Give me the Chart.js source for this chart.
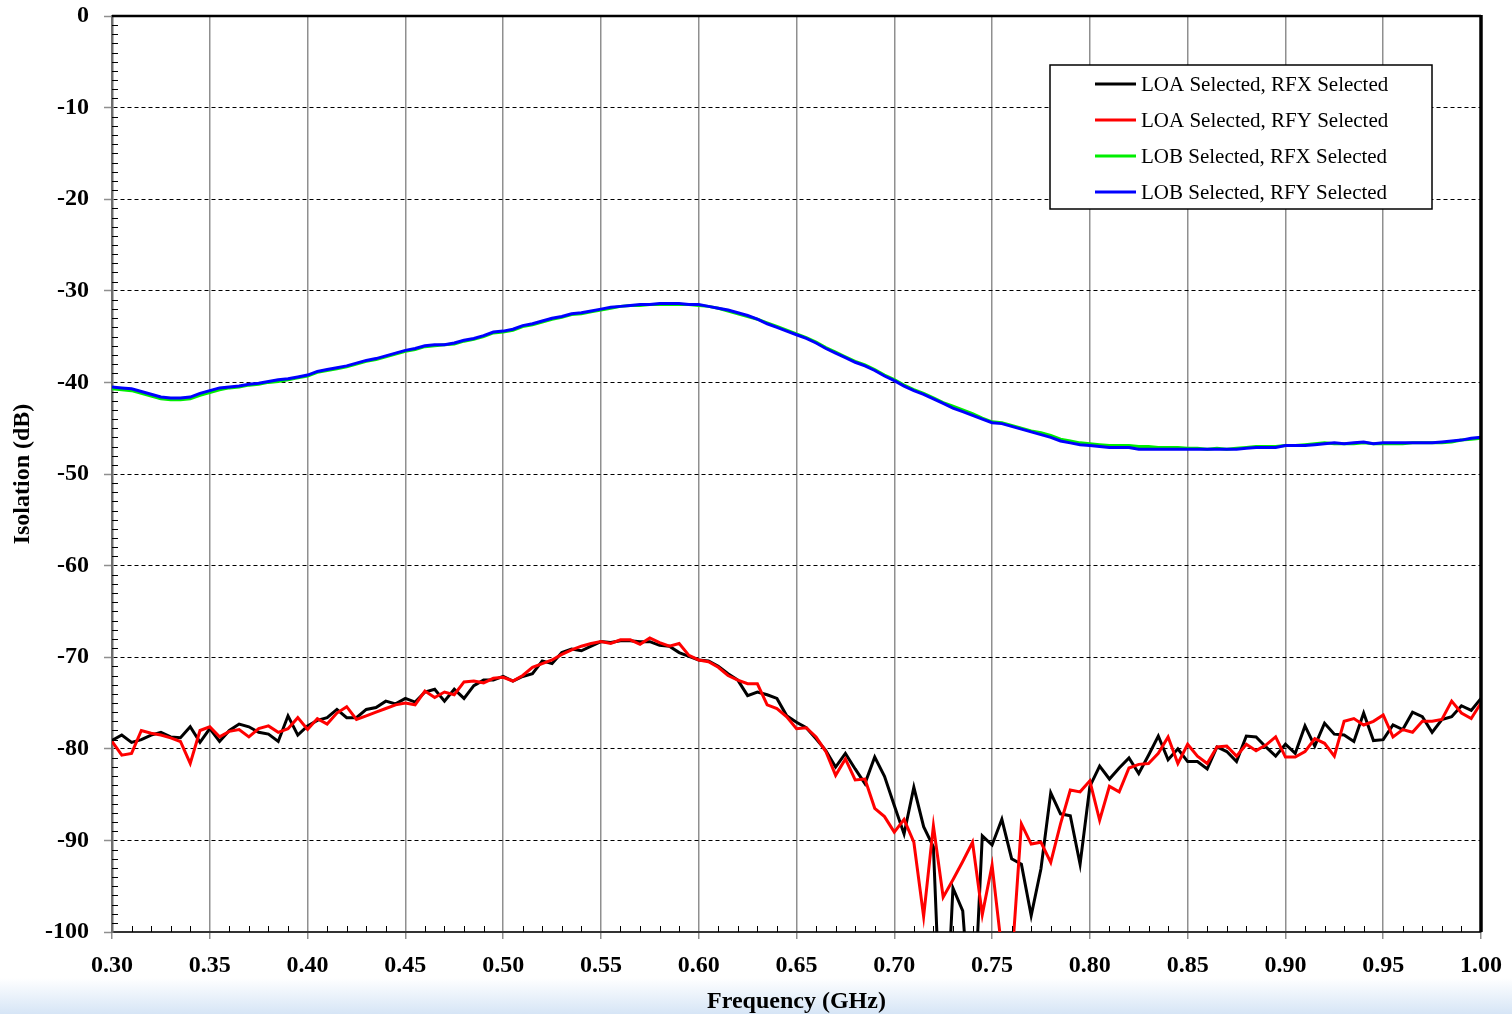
<!DOCTYPE html>
<html>
<head>
<meta charset="utf-8">
<title>Isolation vs Frequency</title>
<script src="https://cdn.jsdelivr.net/npm/chart.js@4.4.1/dist/chart.umd.min.js"></script>
<style>
    html, body { margin: 0; padding: 0; }
    body {
        width: 1512px;
        height: 1014px;
        overflow: hidden;
        background: linear-gradient(to bottom, #ffffff 0px, #ffffff 978px, #d6e5f6 1014px);
    }
    canvas { display: block; }
</style>
</head>
<body>
<canvas id="isolation-plot" width="1512" height="1014"></canvas>
<script>
// Frequency points (GHz), 5 MHz step
const freqGHz = [
    0.300, 0.305, 0.310, 0.315, 0.320, 0.325, 0.330, 0.335, 0.340, 0.345,
    0.350, 0.355, 0.360, 0.365, 0.370, 0.375, 0.380, 0.385, 0.390, 0.395,
    0.400, 0.405, 0.410, 0.415, 0.420, 0.425, 0.430, 0.435, 0.440, 0.445,
    0.450, 0.455, 0.460, 0.465, 0.470, 0.475, 0.480, 0.485, 0.490, 0.495,
    0.500, 0.505, 0.510, 0.515, 0.520, 0.525, 0.530, 0.535, 0.540, 0.545,
    0.550, 0.555, 0.560, 0.565, 0.570, 0.575, 0.580, 0.585, 0.590, 0.595,
    0.600, 0.605, 0.610, 0.615, 0.620, 0.625, 0.630, 0.635, 0.640, 0.645,
    0.650, 0.655, 0.660, 0.665, 0.670, 0.675, 0.680, 0.685, 0.690, 0.695,
    0.700, 0.705, 0.710, 0.715, 0.720, 0.725, 0.730, 0.735, 0.740, 0.745,
    0.750, 0.755, 0.760, 0.765, 0.770, 0.775, 0.780, 0.785, 0.790, 0.795,
    0.800, 0.805, 0.810, 0.815, 0.820, 0.825, 0.830, 0.835, 0.840, 0.845,
    0.850, 0.855, 0.860, 0.865, 0.870, 0.875, 0.880, 0.885, 0.890, 0.895,
    0.900, 0.905, 0.910, 0.915, 0.920, 0.925, 0.930, 0.935, 0.940, 0.945,
    0.950, 0.955, 0.960, 0.965, 0.970, 0.975, 0.980, 0.985, 0.990, 0.995,
    1.000
];

// LOA selected, RFX selected (dB)
const loaRfx = [
    -79.1, -78.5, -79.3, -79.0, -78.5, -78.2, -78.7, -78.8, -77.6, -79.3,
    -77.8, -79.2, -78.0, -77.3, -77.6, -78.2, -78.4, -79.2, -76.4, -78.5,
    -77.5, -76.9, -76.6, -75.7, -76.6, -76.6, -75.7, -75.5, -74.8, -75.1,
    -74.5, -74.9, -73.8, -73.5, -74.8, -73.5, -74.5, -73.1, -72.5, -72.5,
    -72.1, -72.6, -72.1, -71.8, -70.4, -70.7, -69.5, -69.1, -69.3, -68.8,
    -68.3, -68.4, -68.2, -68.2, -68.3, -68.3, -68.7, -68.8, -69.5, -69.9,
    -70.3, -70.4, -71.0, -71.8, -72.5, -74.2, -73.8, -74.1, -74.5, -76.4,
    -77.1, -77.7, -78.9, -80.2, -82.0, -80.5, -82.2, -83.8, -80.9, -83.0,
    -86.2, -89.3, -84.2, -88.5, -90.7, -117.0, -95.2, -97.7, -112.0, -89.5,
    -90.5, -87.7, -92.0, -92.6, -98.2, -93.1, -84.8, -87.1, -87.3, -92.6,
    -84.1, -81.9, -83.3, -82.1, -81.0, -82.7, -80.7, -78.6, -81.2, -80.0,
    -81.4, -81.4, -82.2, -79.8, -80.3, -81.4, -78.6, -78.7, -79.8, -80.8,
    -79.5, -80.5, -77.5, -79.7, -77.2, -78.4, -78.5, -79.2, -76.1, -79.1,
    -79.0, -77.4, -77.9, -76.0, -76.5, -78.2, -76.8, -76.5, -75.3, -75.8,
    -74.5
];

// LOA selected, RFY selected (dB)
const loaRfy = [
    -79.2, -80.7, -80.5, -78.0, -78.3, -78.5, -78.8, -79.2, -81.6, -78.0,
    -77.6, -78.7, -78.1, -77.9, -78.7, -77.8, -77.5, -78.2, -77.8, -76.6,
    -77.9, -76.7, -77.3, -76.1, -75.4, -76.8, -76.4, -76.0, -75.6, -75.2,
    -75.0, -75.2, -73.7, -74.4, -73.8, -74.1, -72.7, -72.6, -72.8, -72.3,
    -72.2, -72.6, -72.0, -71.1, -70.7, -70.3, -69.7, -69.2, -68.8, -68.5,
    -68.3, -68.5, -68.1, -68.1, -68.6, -67.9, -68.4, -68.8, -68.5, -69.8,
    -70.3, -70.5, -71.1, -72.0, -72.5, -72.9, -72.9, -75.2, -75.6, -76.5,
    -77.8, -77.7, -78.7, -80.3, -82.9, -81.1, -83.4, -83.3, -86.5, -87.4,
    -89.1, -87.7, -90.2, -98.3, -88.4, -96.2, -94.3, -92.3, -90.2, -98.1,
    -92.7, -102.0, -103.5, -88.2, -90.4, -90.2, -92.4, -88.2, -84.5, -84.7,
    -83.5, -87.8, -84.1, -84.7, -82.1, -81.7, -81.6, -80.5, -78.7, -81.6,
    -79.5, -80.8, -81.6, -79.8, -79.7, -80.8, -79.5, -80.2, -79.6, -78.7,
    -80.9, -80.9, -80.3, -78.9, -79.4, -80.8, -77.0, -76.7, -77.4, -77.0,
    -76.3, -78.7, -77.9, -78.2, -77.0, -77.0, -76.8, -74.8, -76.1, -76.7,
    -75.0
];

// LOB selected, RFX selected (dB)
const lobRfx = [
    -40.7, -40.8, -40.9, -41.2, -41.5, -41.8, -41.9, -41.9, -41.8, -41.4,
    -41.1, -40.8, -40.6, -40.5, -40.3, -40.2, -40.0, -39.9, -39.7, -39.5,
    -39.3, -38.9, -38.7, -38.5, -38.3, -38.0, -37.7, -37.5, -37.2, -36.9,
    -36.6, -36.4, -36.1, -36.0, -35.9, -35.8, -35.5, -35.3, -35.0, -34.6,
    -34.5, -34.3, -33.9, -33.7, -33.4, -33.1, -32.9, -32.6, -32.5, -32.3,
    -32.1, -31.9, -31.7, -31.6, -31.6, -31.5, -31.5, -31.5, -31.5, -31.5,
    -31.6, -31.7, -31.9, -32.2, -32.5, -32.8, -33.1, -33.5, -33.9, -34.3,
    -34.7, -35.1, -35.6, -36.2, -36.7, -37.2, -37.7, -38.1, -38.6, -39.2,
    -39.7, -40.3, -40.8, -41.2, -41.7, -42.2, -42.6, -43.0, -43.4, -43.9,
    -44.3, -44.4, -44.7, -45.0, -45.3, -45.5, -45.8, -46.2, -46.4, -46.6,
    -46.7, -46.8, -46.9, -46.9, -46.9, -47.0, -47.0, -47.1, -47.1, -47.1,
    -47.2, -47.2, -47.3, -47.2, -47.3, -47.2, -47.1, -47.0, -47.0, -47.0,
    -46.9, -46.9, -46.8, -46.7, -46.6, -46.7, -46.7, -46.7, -46.6, -46.7,
    -46.7, -46.7, -46.7, -46.6, -46.6, -46.6, -46.6, -46.5, -46.3, -46.2,
    -46.1
];

// LOB selected, RFY selected (dB)
const lobRfy = [
    -40.5, -40.6, -40.7, -41.0, -41.3, -41.6, -41.7, -41.7, -41.6, -41.2,
    -40.9, -40.6, -40.5, -40.4, -40.2, -40.1, -39.9, -39.7, -39.6, -39.4,
    -39.2, -38.8, -38.6, -38.4, -38.2, -37.9, -37.6, -37.4, -37.1, -36.8,
    -36.5, -36.3, -36.0, -35.9, -35.9, -35.7, -35.4, -35.2, -34.9, -34.5,
    -34.4, -34.2, -33.8, -33.6, -33.3, -33.0, -32.8, -32.5, -32.4, -32.2,
    -32.0, -31.8, -31.7, -31.6, -31.5, -31.5, -31.4, -31.4, -31.4, -31.5,
    -31.5, -31.7, -31.9, -32.1, -32.4, -32.7, -33.1, -33.6, -34.0, -34.4,
    -34.8, -35.2, -35.7, -36.3, -36.8, -37.3, -37.8, -38.2, -38.7, -39.3,
    -39.8, -40.4, -40.9, -41.3, -41.8, -42.3, -42.8, -43.2, -43.6, -44.0,
    -44.4, -44.5, -44.8, -45.1, -45.4, -45.7, -46.0, -46.4, -46.6, -46.8,
    -46.9, -47.0, -47.1, -47.1, -47.1, -47.3, -47.3, -47.3, -47.3, -47.3,
    -47.3, -47.3, -47.3, -47.3, -47.3, -47.3, -47.2, -47.1, -47.1, -47.1,
    -46.9, -46.9, -46.9, -46.8, -46.7, -46.6, -46.7, -46.6, -46.5, -46.7,
    -46.6, -46.6, -46.6, -46.6, -46.6, -46.6, -46.5, -46.4, -46.3, -46.1,
    -46.0
];

const seriesLabels = [
    'LOA Selected, RFX Selected',
    'LOA Selected, RFY Selected',
    'LOB Selected, RFX Selected',
    'LOB Selected, RFY Selected',
];
const seriesColors = ['#000000', '#ff0000', '#00ee00', '#0000ff'];
const seriesValues = [loaRfx, loaRfy, lobRfx, lobRfy];

const axisFont = { family: '"Liberation Serif", "Times New Roman", serif', size: 24, weight: 'bold' };

// Excel draws later series on top -> higher 'order' is drawn first in Chart.js
const datasets = seriesValues.map((vals, i) => ({
    label: seriesLabels[i],
    data: vals.map((v, k) => ({ x: freqGHz[k], y: v })),
    borderColor: seriesColors[i],
    backgroundColor: seriesColors[i],
    borderWidth: 3,
    pointRadius: 0,
    tension: 0,
    fill: false,
    order: seriesValues.length - i,
}));

// Minor ticks + frame (top black, right black heavy)
const framePlugin = {
    id: 'frame',
    afterDatasetsDraw(chart) {
        const { ctx, chartArea: a, scales: { x, y } } = chart;
        ctx.save();
        ctx.strokeStyle = '#000';
        ctx.lineWidth = 1;
        ctx.beginPath();
        for (let v = -99; v < 0; v++) {
            if (v % 10 === 0) continue;
            const py = Math.round(y.getPixelForValue(v)) + 0.5;
            ctx.moveTo(a.left, py);
            ctx.lineTo(a.left + 6, py);
        }
        for (let k = 31; k < 100; k++) {
            if (k % 5 === 0) continue;
            const px = Math.round(x.getPixelForValue(k / 100)) + 0.5;
            ctx.moveTo(px, a.bottom);
            ctx.lineTo(px, a.bottom - 6);
        }
        ctx.stroke();

        ctx.lineWidth = 2.5;
        ctx.beginPath();
        ctx.moveTo(a.left, a.top);
        ctx.lineTo(a.right, a.top);
        ctx.stroke();
        ctx.lineWidth = 3.5;
        ctx.beginPath();
        ctx.moveTo(a.right, a.top - 1);
        ctx.lineTo(a.right, a.bottom);
        ctx.stroke();
        ctx.restore();
    }
};

// Boxed legend inside the plot area, top right
const boxLegendPlugin = {
    id: 'boxLegend',
    afterDraw(chart) {
        const ctx = chart.ctx;
        const box = { x: 1050, y: 65, w: 382, h: 144 };
        ctx.save();
        ctx.fillStyle = '#fff';
        ctx.fillRect(box.x, box.y, box.w, box.h);
        ctx.strokeStyle = '#000';
        ctx.lineWidth = 1.5;
        ctx.strokeRect(box.x, box.y, box.w, box.h);
        ctx.font = '21px "Liberation Serif", "Times New Roman", serif';
        ctx.textBaseline = 'middle';
        ctx.textAlign = 'left';
        chart.data.datasets.forEach((ds, i) => {
            const cy = box.y + 19 + i * 36;
            ctx.strokeStyle = ds.borderColor;
            ctx.lineWidth = 3;
            ctx.beginPath();
            ctx.moveTo(box.x + 45, cy);
            ctx.lineTo(box.x + 86, cy);
            ctx.stroke();
            ctx.fillStyle = '#000';
            ctx.fillText(ds.label, box.x + 91, cy + 1);
        });
        ctx.restore();
    }
};

const canvas = document.getElementById('isolation-plot');
new Chart(canvas, {
    type: 'line',
    data: { datasets },
    plugins: [framePlugin, boxLegendPlugin],
    options: {
        responsive: false,
        animation: false,
        devicePixelRatio: 1,
        layout: { padding: { left: 0, top: 16, right: 31, bottom: 0 } },
        plugins: {
            legend: { display: false },
            tooltip: { enabled: false },
        },
        scales: {
            x: {
                type: 'linear',
                min: 0.3,
                max: 1.0,
                afterFit: s => {
                    s.height = 82;
                    s.paddingLeft = 0;
                    s.paddingRight = 0;
                },
                ticks: {
                    stepSize: 0.05,
                    autoSkip: false,
                    maxRotation: 0,
                    padding: 12,
                    color: '#000',
                    font: axisFont,
                    callback: v => Number(v).toFixed(2),
                },
                grid: {
                    color: ctx => (ctx.tick && (ctx.tick.value <= 0.3001 || ctx.tick.value >= 0.9999)) ? 'rgba(0,0,0,0)' : '#8f8f8f',
                    lineWidth: 1.5,
                    drawTicks: true,
                    tickLength: 7,
                    tickColor: '#8f8f8f',
                    tickWidth: 1.5,
                },
                border: { display: true, color: '#333', width: 2 },
                title: {
                    display: true,
                    text: 'Frequency (GHz)',
                    color: '#000',
                    font: axisFont,
                    padding: { top: 0, bottom: -2 },
                },
            },
            y: {
                min: -100,
                max: 0,
                afterFit: s => {
                    s.width = 112;
                    s.paddingTop = 0;
                    s.paddingBottom = 0;
                },
                ticks: {
                    stepSize: 10,
                    padding: 15,
                    color: '#000',
                    font: axisFont,
                },
                grid: {
                    color: '#000',
                    lineWidth: 1,
                    drawTicks: true,
                    tickLength: 8,
                    tickColor: '#8f8f8f',
                    tickWidth: 1.5,
                },
                border: { display: true, color: '#6e6e6e', width: 2.5, dash: [4, 3] },
                title: {
                    display: true,
                    text: 'Isolation (dB)',
                    color: '#000',
                    font: axisFont,
                    padding: { top: 8, bottom: 0 },
                },
            },
        },
    },
});
</script>
</body>
</html>
